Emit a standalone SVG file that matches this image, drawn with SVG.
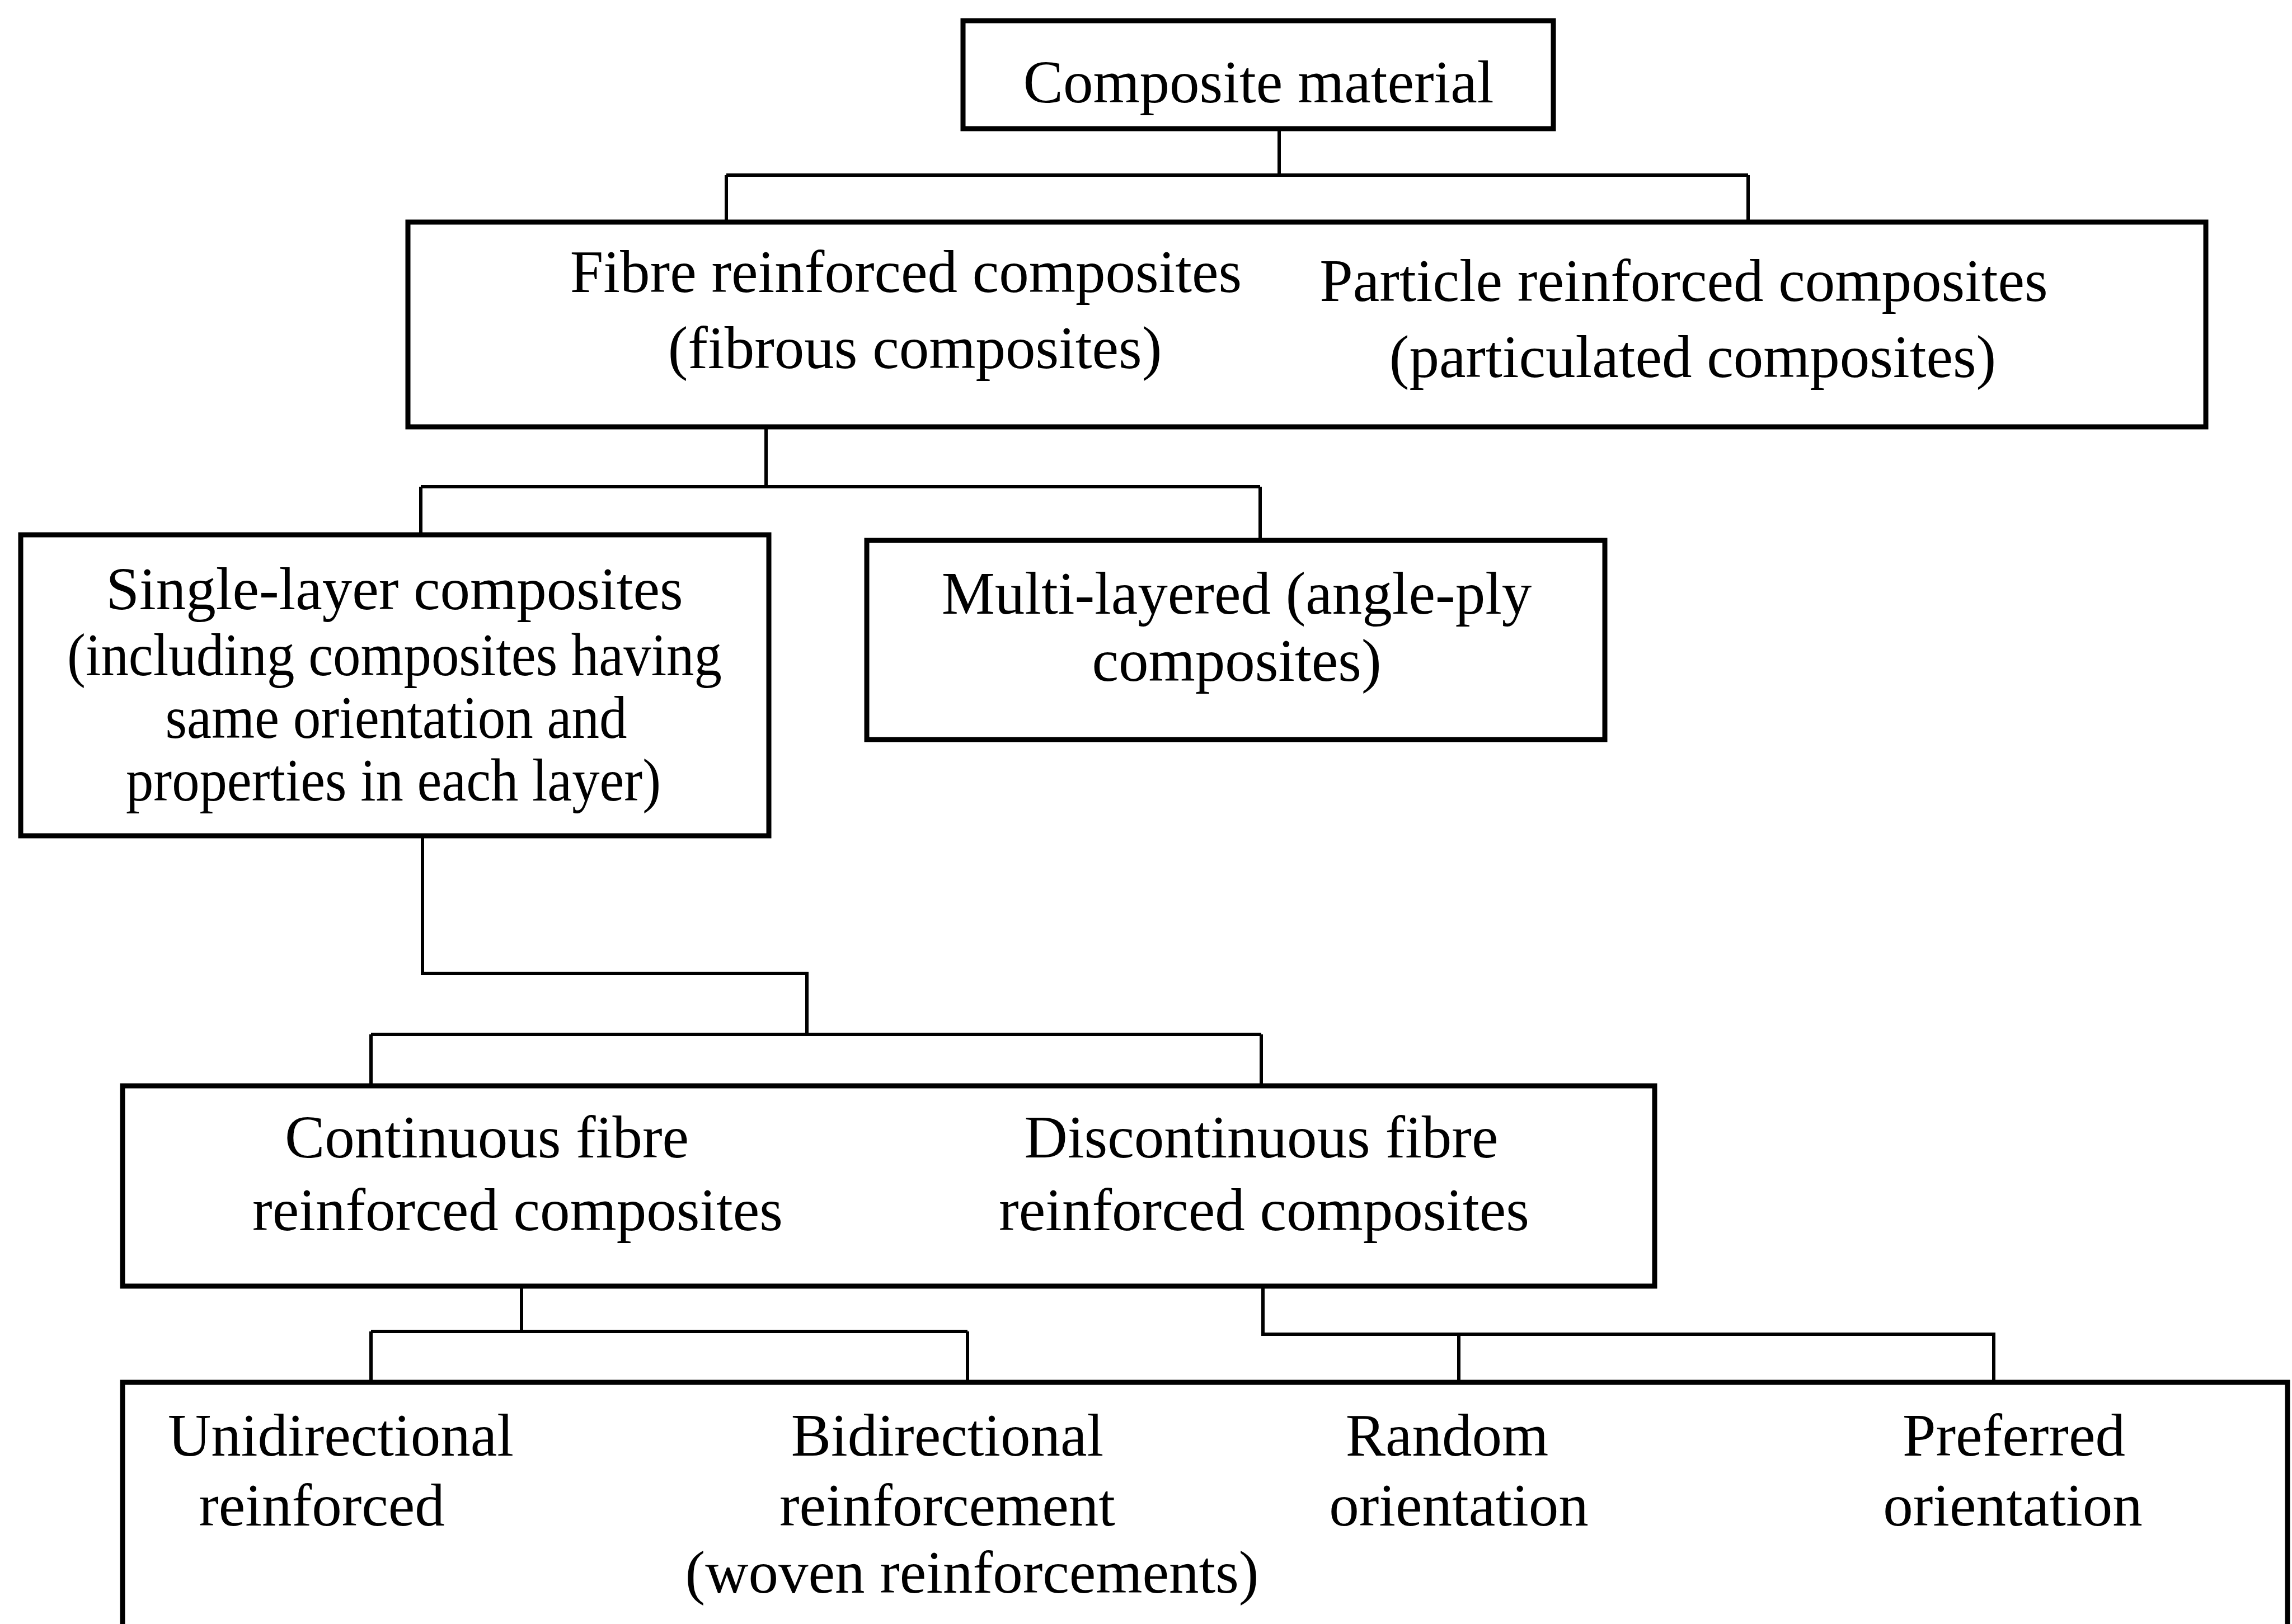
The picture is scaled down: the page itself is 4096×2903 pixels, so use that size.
<svg xmlns="http://www.w3.org/2000/svg" width="4096" height="2903" viewBox="0 0 4096 2903">
<style>
.box{fill:#fff;stroke:#000;stroke-width:9}
.t{font-family:"Liberation Serif","Times New Roman",serif;font-size:107px;fill:#000;text-anchor:middle}
.c{fill:none;stroke:#000;stroke-width:6}
</style>
<rect x="0" y="0" width="4096" height="2903" fill="#fff"/>
<g id="connectors">
<path class="c" d="M2286,230 V313 M1298,313 H3124 M1298,313 V397 M3124,313 V397"/>
<path class="c" d="M1369,763 V870 M752,870 H2252 M752,870 V956 M2252,870 V966"/>
<path class="c" d="M755,1494 V1740 H1442 V1849 M663,1849 H2254 M663,1849 V1941 M2254,1849 V1941"/>
<path class="c" d="M932,2299 V2380 M663,2380 H1729 M663,2380 V2471 M1729,2380 V2471"/>
<path class="c" d="M2257,2299 V2385 H3563 V2471 M2607,2385 V2471"/>
</g>
<g id="composite-material">
<rect class="box" x="1721" y="37" width="1055" height="193"/>
<text class="t" x="2249" y="183">Composite material</text>
</g>
<g id="fibre-particle">
<rect class="box" x="729" y="397" width="3213" height="366"/>
<text class="t" x="1619" y="522">Fibre reinforced composites</text>
<text class="t" x="1635" y="658">(fibrous composites)</text>
<text class="t" x="3009" y="538">Particle reinforced composites</text>
<text class="t" x="3025" y="674">(particulated composites)</text>
</g>
<g id="single-layer">
<rect class="box" x="37" y="956" width="1337" height="538"/>
<text class="t" x="705" y="1089">Single-layer composites</text>
<text class="t" x="705" y="1207" textLength="1170" lengthAdjust="spacingAndGlyphs">(including composites having</text>
<text class="t" x="708" y="1319" textLength="825" lengthAdjust="spacingAndGlyphs">same orientation and</text>
<text class="t" x="703" y="1431" textLength="956" lengthAdjust="spacingAndGlyphs">properties in each layer)</text>
</g>
<g id="multi-layered">
<rect class="box" x="1549" y="966" width="1319" height="356"/>
<text class="t" x="2210" y="1097">Multi-layered (angle-ply</text>
<text class="t" x="2210" y="1217">composites)</text>
</g>
<g id="continuous-discontinuous">
<rect class="box" x="219" y="1941" width="2738" height="358"/>
<text class="t" x="870" y="2069">Continuous fibre</text>
<text class="t" x="925" y="2199">reinforced composites</text>
<text class="t" x="2254" y="2069">Discontinuous fibre</text>
<text class="t" x="2259" y="2199">reinforced composites</text>
</g>
<g id="orientations">
<rect class="box" x="219" y="2471" width="3869" height="600"/>
<text class="t" x="609" y="2602">Unidirectional</text>
<text class="t" x="575" y="2727">reinforced</text>
<text class="t" x="1693" y="2602">Bidirectional</text>
<text class="t" x="1693" y="2727">reinforcement</text>
<text class="t" x="1737" y="2847">(woven reinforcements)</text>
<text class="t" x="2586" y="2602">Random</text>
<text class="t" x="2607" y="2727">orientation</text>
<text class="t" x="3599" y="2602">Preferred</text>
<text class="t" x="3597" y="2727">orientation</text>
</g>
</svg>
